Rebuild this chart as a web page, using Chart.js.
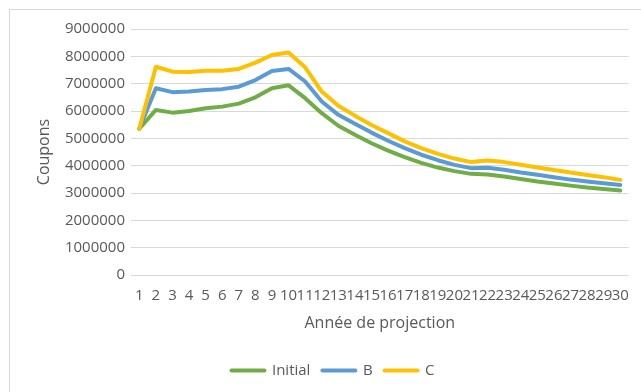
<!DOCTYPE html>
<html>
<head>
<meta charset="utf-8">
<script src="https://cdn.jsdelivr.net/npm/chart.js@4.4.1/dist/chart.umd.min.js"></script>
<style>
  html, body { margin: 0; padding: 0; background: #fff; }
  #wrap { position: relative; width: 641px; height: 392px; overflow: hidden; }
  #frame { position: absolute; left: 9px; top: 9px; width: 700px; height: 500px; border: 1px solid #d9d9d9; }
  canvas { position: absolute; left: 0; top: 0; }
</style>
</head>
<body>
<div id="wrap">
  <div id="frame"></div>
  <canvas id="chart" width="641" height="392"></canvas>
</div>
<script>
//  Data 
const years = ['1','2','3','4','5','6','7','8','9','10','11','12','13','14','15',
               '16','17','18','19','20','21','22','23','24','25','26','27','28','29','30'];

const initialValues = [5350000, 6040000, 5940000, 6000000, 6100000, 6160000, 6270000, 6500000, 6830000, 6940000,
                       6470000, 5920000, 5460000, 5130000, 4820000, 4550000, 4310000, 4100000, 3930000, 3800000,
                       3700000, 3680000, 3600000, 3510000, 3420000, 3350000, 3270000, 3200000, 3150000, 3090000];

const bValues       = [5350000, 6830000, 6690000, 6710000, 6770000, 6800000, 6890000, 7130000, 7460000, 7540000,
                       7080000, 6350000, 5860000, 5530000, 5210000, 4910000, 4640000, 4400000, 4200000, 4030000,
                       3910000, 3920000, 3850000, 3750000, 3670000, 3580000, 3490000, 3420000, 3360000, 3290000];

const cValues       = [5350000, 7620000, 7440000, 7430000, 7470000, 7470000, 7540000, 7770000, 8050000, 8140000,
                       7600000, 6710000, 6190000, 5830000, 5490000, 5190000, 4890000, 4640000, 4430000, 4260000,
                       4130000, 4190000, 4130000, 4030000, 3930000, 3840000, 3750000, 3660000, 3580000, 3480000];

const yTicks = [0, 1000000, 2000000, 3000000, 4000000, 5000000, 6000000, 7000000, 8000000, 9000000];

const textColor = '#595959';
const gridColor = '#d9d9d9';
const fontFamily = '"Open Sans", "Liberation Sans", sans-serif';

function lineSet(label, data, color, order) {
    return {
        label: label,
        data: data,
        borderColor: color,
        backgroundColor: color,
        borderWidth: 4,
        pointRadius: 0,
        pointHoverRadius: 0,
        tension: 0,
        fill: false,
        borderCapStyle: 'round',
        borderJoinStyle: 'round',
        order: order
    };
}

const ctx = document.getElementById('chart').getContext('2d');
new Chart(ctx, {
    type: 'line',
    data: {
        labels: years,
        datasets: [
            lineSet('Initial', initialValues, '#70ad47', 3),
            lineSet('B', bValues, '#5b9bd5', 2),
            lineSet('C', cValues, '#ffc000', 1)
        ]
    },
    options: {
        responsive: false,
        animation: false,
        // left padding pushes the legend box right so it centres like the original
        layout: { padding: { top: 29, right: 8, left: 33, bottom: 4 } },
        plugins: {
            tooltip: { enabled: false },
            legend: {
                position: 'bottom',
                labels: {
                    // zero-height box: the 4px round-joined stroke makes the line sample
                    boxWidth: 33,
                    boxHeight: 0,
                    padding: 12,
                    color: textColor,
                    font: { family: fontFamily, size: 15 },
                    sort: (a, b) => a.datasetIndex - b.datasetIndex
                }
            }
        },
        scales: {
            x: {
                offset: true,
                grid: { display: false, drawTicks: false },
                border: { display: false },
                ticks: {
                    autoSkip: false,
                    maxRotation: 0,
                    minRotation: 0,
                    padding: 12,
                    color: textColor,
                    font: { family: fontFamily, size: 15 }
                },
                title: {
                    display: true,
                    text: 'Année de projection',
                    color: textColor,
                    font: { family: fontFamily, size: 16 },
                    padding: { top: 4, bottom: 18 }
                },
                afterFit: scale => { scale.height = 76; }
            },
            y: {
                min: 0,
                max: 9000000,
                afterBuildTicks: scale => { scale.ticks = yTicks.map(v => ({ value: v })); },
                grid: { color: gridColor, lineWidth: 1, drawTicks: false },
                border: { display: false },
                ticks: {
                    padding: 6,
                    color: textColor,
                    font: { family: fontFamily, size: 15 },
                    callback: v => String(v)
                },
                title: {
                    display: true,
                    text: 'Coupons',
                    color: textColor,
                    font: { family: fontFamily, size: 16 },
                    padding: { top: 2, bottom: 0 }
                },
                afterFit: scale => { scale.width = 98; }
            }
        }
    }
});
</script>
</body>
</html>
